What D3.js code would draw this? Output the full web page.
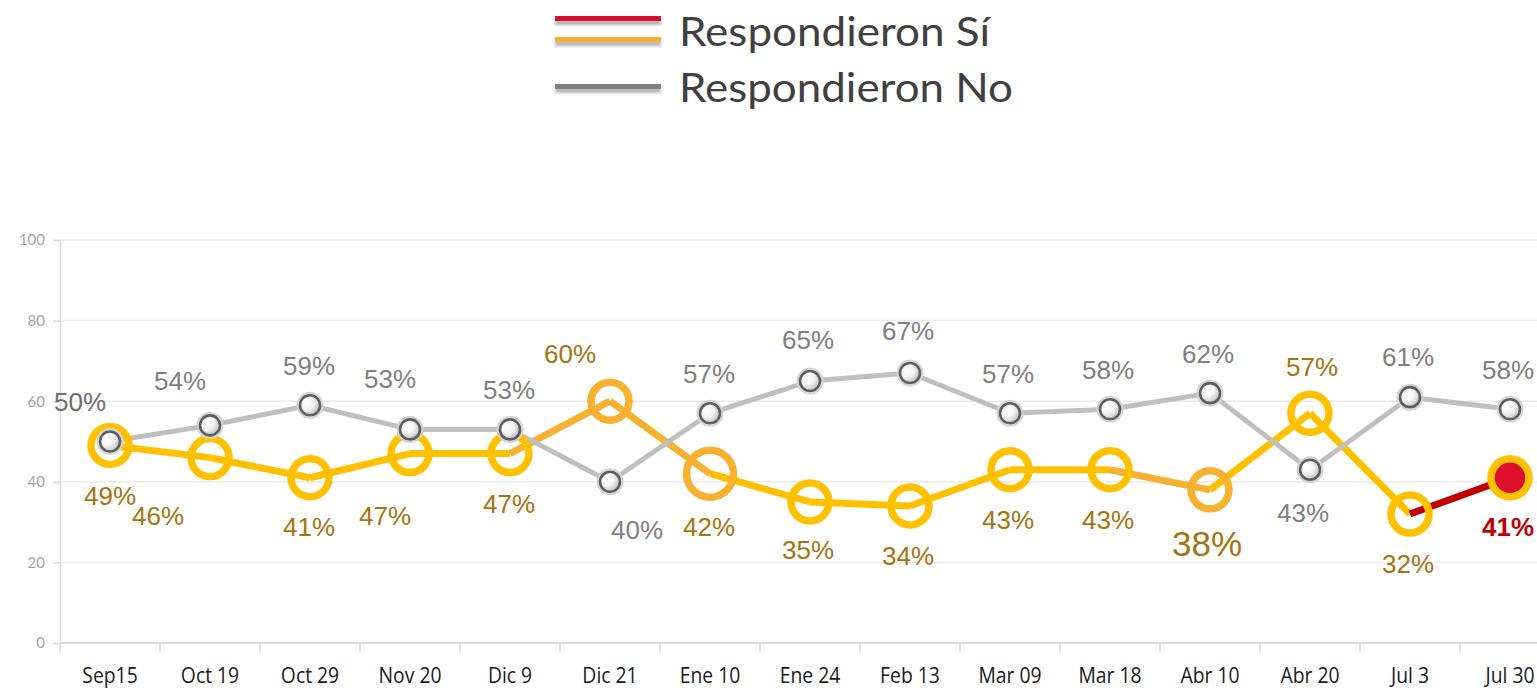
<!DOCTYPE html>
<html>
<head>
<meta charset="utf-8">
<script src="https://cdn.jsdelivr.net/npm/d3@7"></script>
<style>
  html, body { margin: 0; padding: 0; background: #fff; }
  svg { display: block; }
</style>
</head>
<body>
<svg id="chart" width="1537" height="690"></svg>
<script>
// ---------- DATA ----------
const categories = ["Sep15","Oct 19","Oct 29","Nov 20","Dic 9","Dic 21","Ene 10","Ene 24","Feb 13","Mar 09","Mar 18","Abr 10","Abr 20","Jul 3","Jul 30"];
const siValues   = [49, 46, 41, 47, 47, 60, 42, 35, 34, 43, 43, 38, 57, 32, 41];
const noValues   = [50, 54, 59, 53, 53, 40, 57, 65, 67, 57, 58, 62, 43, 61, 58];
const yTicks     = [0, 20, 40, 60, 80, 100];
const seriesNames = ["Respondieron Sí", "Respondieron No"];

// ---------- LAYOUT / STYLE (not data) ----------
const YELLOW = "#FFC000", ORANGE = "#F5B12F", DARKRED = "#C00000", RED = "#DC0F2D";
const GRAY_LINE = "#BFBFBF", SI_LABEL = "#A6730F", NO_LABEL = "#7F7F7F";
const orangePoints = new Set([5, 6, 11]);
const orangeSegments = new Set([4, 5, 10]); // segment i connects i -> i+1
const redSegments = new Set([13]);
const siLabelOffsets = [[0,50],[-52,58],[-1,49],[-25,62],[-1,50],[-40,-48],[-1,53],[-2,48],[-2,50],[-2,50],[-2,50],[-3,54],[2,-47],[-2,49],[-2,49]];
const noLabelOffsets = [[-30,-40],[-30,-45],[-1,-40],[-20,-51],[-1,-40],[27,48],[-1,-40],[-2,-42],[-2,-42],[-2,-40],[-2,-40],[-2,-40],[-7,43],[-2,-41],[-2,-40]];

const svg = d3.select("#chart");
const W = 1537, H = 690;
const plot = { left: 60, right: 1560, top: 240, bottom: 643 };

const x = d3.scaleBand().domain(categories).range([plot.left, plot.right]).padding(0);
const y = d3.scaleLinear().domain([0, 100]).range([plot.bottom, plot.top]);
const cx = i => x(categories[i]) + x.bandwidth() / 2;

// defs
const defs = svg.append("defs");
const grad = defs.append("radialGradient").attr("id", "noGrad")
  .attr("cx", "35%").attr("cy", "35%").attr("r", "75%");
grad.append("stop").attr("offset", "0%").attr("stop-color", "#ffffff");
grad.append("stop").attr("offset", "45%").attr("stop-color", "#f4f4f4");
grad.append("stop").attr("offset", "100%").attr("stop-color", "#b8b8b8");
const sh = defs.append("filter").attr("id", "shadow").attr("filterUnits", "userSpaceOnUse")
  .attr("x", 540).attr("y", 0).attr("width", 140).attr("height", 110);
sh.append("feGaussianBlur").attr("in", "SourceAlpha").attr("stdDeviation", 1.6).attr("result", "b");
sh.append("feOffset").attr("in", "b").attr("dx", 0).attr("dy", 3.5).attr("result", "o");
sh.append("feComponentTransfer").attr("in", "o").attr("result", "o2")
  .append("feFuncA").attr("type", "linear").attr("slope", 0.3);
const mg = sh.append("feMerge");
mg.append("feMergeNode").attr("in", "o2");
mg.append("feMergeNode").attr("in", "SourceGraphic");

// ---------- GRID ----------
svg.append("g").selectAll("line").data(yTicks.filter(d => d > 0)).join("line")
  .attr("x1", plot.left).attr("x2", W)
  .attr("y1", d => y(d)).attr("y2", d => y(d))
  .attr("stroke", "#EBEBEB").attr("stroke-width", 1.5);

// ---------- Y AXIS ----------
const yAxis = svg.append("g").attr("transform", `translate(${plot.left},0)`)
  .call(d3.axisLeft(y).tickValues(yTicks).tickSize(7).tickPadding(8));
yAxis.select(".domain").attr("stroke", "#D9D9D9").attr("stroke-width", 1.5);
yAxis.selectAll(".tick line").attr("stroke", "#D9D9D9").attr("stroke-width", 1.5);
yAxis.selectAll(".tick text").attr("fill", "#A6A6A6").attr("font-size", 15)
  .attr("font-family", "Lato, 'Open Sans', sans-serif");

// ---------- X AXIS ----------
const xg = svg.append("g").attr("transform", `translate(0,${plot.bottom})`);
xg.append("line").attr("x1", plot.left).attr("x2", W).attr("y1", 0).attr("y2", 0)
  .attr("stroke", "#D9D9D9").attr("stroke-width", 2);
xg.selectAll("line.tk").data(categories).join("line").attr("class", "tk")
  .attr("x1", d => x(d)).attr("x2", d => x(d)).attr("y1", 0).attr("y2", 9)
  .attr("stroke", "#D9D9D9").attr("stroke-width", 1.5);
const xAxis = xg.append("g").call(d3.axisBottom(x).tickSize(0).tickPadding(0));
xAxis.select(".domain").remove();
xAxis.selectAll(".tick text").attr("y", 40).attr("dy", 0)
  .attr("fill", "#1a1a1a").attr("font-size", 21)
  .attr("font-family", "'Open Sans', Lato, sans-serif")
  .attr("textLength", function () { return this.getComputedTextLength() * 0.92; })
  .attr("lengthAdjust", "spacingAndGlyphs");

// ---------- SÍ LINE SEGMENTS ----------
const segs = d3.range(siValues.length - 1).map(i => ({ i }));
const segColor = i => redSegments.has(i) ? DARKRED : (orangeSegments.has(i) ? ORANGE : YELLOW);
svg.append("g").selectAll("line").data(segs).join("line")
  .attr("x1", d => cx(d.i)).attr("y1", d => y(siValues[d.i]))
  .attr("x2", d => cx(d.i + 1)).attr("y2", d => y(siValues[d.i + 1]))
  .attr("stroke", d => segColor(d.i)).attr("stroke-width", 7).attr("stroke-linecap", "butt");

// ---------- NO LINE ----------
const noLine = d3.line().x((d, i) => cx(i)).y(d => y(d));
svg.append("path").datum(noValues).attr("d", noLine)
  .attr("fill", "none").attr("stroke", GRAY_LINE).attr("stroke-width", 5).attr("stroke-linejoin", "round");

// ---------- SÍ MARKERS ----------
const last = siValues.length - 1;
svg.append("g").selectAll("circle").data(siValues).join("circle")
  .attr("cx", (d, i) => cx(i)).attr("cy", d => y(d))
  .attr("r", (d, i) => i === 6 ? 23.5 : 19)
  .attr("fill", (d, i) => i === last ? RED : "none")
  .attr("stroke", (d, i) => orangePoints.has(i) ? ORANGE : YELLOW)
  .attr("stroke-width", 7.5);

// ---------- NO MARKERS ----------
const nm = svg.append("g").selectAll("g").data(noValues).join("g")
  .attr("transform", (d, i) => `translate(${cx(i)},${y(d)})`);
nm.append("circle").attr("r", 12.5).attr("fill", "none").attr("stroke", "#D4D4D4").attr("stroke-width", 2);
nm.append("circle").attr("r", 10).attr("fill", "url(#noGrad)").attr("stroke", "#5E5E5E").attr("stroke-width", 2.6);

// ---------- LABELS ----------
const labelFont = "'Liberation Sans', Arial, sans-serif";
svg.append("g").selectAll("text").data(siValues).join("text")
  .attr("x", (d, i) => cx(i) + siLabelOffsets[i][0])
  .attr("y", (d, i) => y(d) + siLabelOffsets[i][1] + (i === 11 ? 12.5 : 9.5))
  .attr("text-anchor", "middle")
  .attr("font-family", labelFont)
  .attr("font-size", (d, i) => i === 11 ? 35 : 26)
  .attr("font-weight", (d, i) => i === last ? "bold" : "normal")
  .attr("fill", (d, i) => i === last ? "#C00000" : SI_LABEL)
  .text(d => d + "%");

svg.append("g").selectAll("text").data(noValues).join("text")
  .attr("x", (d, i) => cx(i) + noLabelOffsets[i][0])
  .attr("y", (d, i) => y(d) + noLabelOffsets[i][1] + 9.5)
  .attr("text-anchor", "middle")
  .attr("font-family", labelFont)
  .attr("font-size", 26)
  .attr("fill", (d, i) => i === 0 ? "#6E6E6E" : NO_LABEL)
  .text(d => d + "%");

// ---------- LEGEND ----------
const lg = svg.append("g");
const legendLines = [
  { y: 18.5, c: RED }, { y: 39.5, c: ORANGE }, { y: 86.5, c: "#808080" }
];
lg.selectAll("rect").data(legendLines).join("rect")
  .attr("x", 555).attr("width", 106).attr("y", d => d.y - 2.5).attr("height", 5)
  .attr("fill", d => d.c).attr("filter", "url(#shadow)");
lg.selectAll("text").data(seriesNames).join("text")
  .attr("x", 679).attr("y", (d, i) => i === 0 ? 46 : 102)
  .attr("font-family", "Lato, 'Open Sans', sans-serif")
  .attr("font-size", 41).attr("fill", "#404040")
  .attr("textLength", (d, i) => i === 0 ? 311 : 334).attr("lengthAdjust", "spacingAndGlyphs")
  .text(d => d);
</script>
</body>
</html>
